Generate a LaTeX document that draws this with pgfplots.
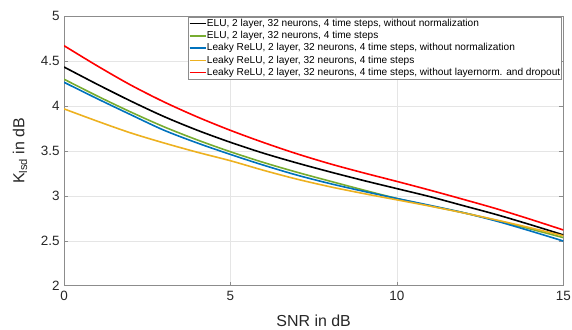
\documentclass[border=0pt]{standalone}
\usepackage{pgfplots}
\pgfplotsset{compat=1.18}
\usepackage{fontspec}
\setmainfont{Liberation Sans}
\definecolor{mblack}{rgb}{0,0,0}
\definecolor{mgreen}{rgb}{0.466,0.674,0.188}
\definecolor{mblue}{rgb}{0,0.447,0.741}
\definecolor{myellow}{rgb}{0.929,0.694,0.125}
\definecolor{mred}{rgb}{1,0,0}
\definecolor{txt}{rgb}{0.15,0.15,0.15}
\begin{document}
\begin{tikzpicture}[x=1bp,y=1bp]
\path[use as bounding box] (0,0) rectangle (572,329);
\begin{axis}[
  at={(64bp,43.3bp)}, anchor=south west,
  scale only axis, width=499.3bp, height=269.7bp,
  xmin=0, xmax=15, ymin=2, ymax=5,
  xtick={0,5,10,15}, ytick={2,2.5,3,3.5,4,4.5,5},
  /pgf/number format/assume math mode=true,
  tick label style={font=\fontsize{13.5}{16}\selectfont, text=txt},
  xticklabel style={yshift=-2bp},
  yticklabel style={xshift=-1bp},
  tick align=inside, tick pos=both,
  major tick length=4bp,
  tick style={black!45, line width=0.5bp},
  axis line style={black!45, line width=0.6bp},
  grid=major,
  major grid style={black!10, line width=0.5bp},
  xlabel={SNR in dB},
  ylabel={K\textsubscript{lsd} in dB},
  label style={font=\fontsize{16}{19}\selectfont, text=txt},
  xlabel style={at={(axis description cs:0.5,-0.131)}, anchor=center},
  ylabel style={at={(axis description cs:-0.088,0.5)}, anchor=center},
  legend cell align=left,
  legend style={at={(axis description cs:0.9968,0.998)}, anchor=north east,
    font=\fontsize{10.15}{12}\selectfont, text=black, draw=black!45,
    inner sep=0.6bp, row sep=0bp,
    nodes={inner sep=0.6bp, text height=8.4bp, text depth=2.7bp}},
  legend image code/.code={\draw[#1, line width=1.6bp] (0bp,0bp) -- (16bp,0bp);},
  every axis plot/.append style={line width=1.6bp, smooth},
]
\addplot[mblack] coordinates {(0,4.433)(1,4.24)(2,4.055)(3,3.882)(4,3.73)(5,3.595)(6,3.473)(7,3.365)(8,3.265)(9,3.17)(10,3.08)(11,2.99)(12,2.89)(13,2.79)(14,2.68)(15,2.565)};
\addlegendentry{ELU, 2 layer, 32 neurons, 4 time steps, without normalization}
\addplot[mgreen] coordinates {(0,4.297)(1,4.11)(2,3.933)(3,3.768)(4,3.622)(5,3.49)(6,3.37)(7,3.262)(8,3.162)(9,3.064)(10,2.97)(11,2.888)(12,2.812)(13,2.725)(14,2.632)(15,2.535)};
\addlegendentry{ELU, 2 layer, 32 neurons, 4 time steps}
\addplot[mblue] coordinates {(0,4.263)(1,4.08)(2,3.903)(3,3.73)(4,3.588)(5,3.46)(6,3.34)(7,3.23)(8,3.135)(9,3.05)(10,2.97)(11,2.893)(12,2.812)(13,2.718)(14,2.61)(15,2.497)};
\addlegendentry{Leaky ReLU, 2 layer, 32 neurons, 4 time steps, without normalization}
\addplot[myellow] coordinates {(0,3.967)(1,3.83)(2,3.70)(3,3.588)(4,3.485)(5,3.39)(6,3.283)(7,3.185)(8,3.10)(9,3.025)(10,2.955)(11,2.885)(12,2.81)(13,2.73)(14,2.645)(15,2.555)};
\addlegendentry{Leaky ReLU, 2 layer, 32 neurons, 4 time steps}
\addplot[mred] coordinates {(0,4.67)(1,4.445)(2,4.233)(3,4.045)(4,3.878)(5,3.728)(6,3.592)(7,3.467)(8,3.355)(9,3.255)(10,3.16)(11,3.062)(12,2.96)(13,2.855)(14,2.74)(15,2.62)};
\addlegendentry{Leaky ReLU, 2 layer, 32 neurons, 4 time steps, without layernorm. and dropout}
\end{axis}
\end{tikzpicture}
\end{document}
